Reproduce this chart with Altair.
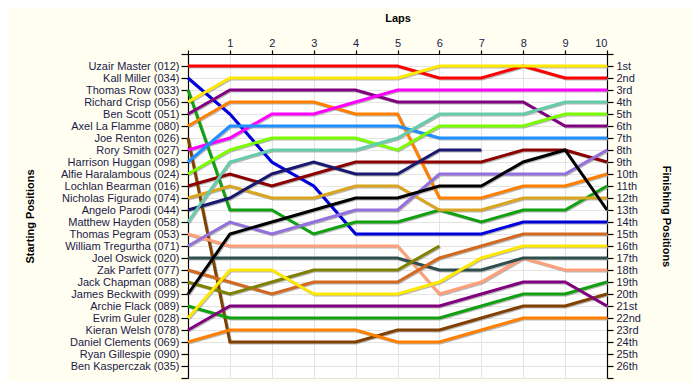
import json
import altair as alt
import pandas as pd

laps = list(range(11))

names = ["Uzair Master", "Kall Miller", "Thomas Row", "Richard Crisp", "Ben Scott",
         "Axel La Flamme", "Joe Renton", "Rory Smith", "Harrison Huggan", "Alfie Haralambous",
         "Lochlan Bearman", "Nicholas Figurado", "Angelo Parodi", "Matthew Hayden",
         "Thomas Pegram", "William Tregurtha", "Joel Oswick", "Zak Parfett", "Jack Chapman",
         "James Beckwith", "Archie Flack", "Evrim Guler", "Kieran Welsh", "Daniel Clements",
         "Ryan Gillespie", "Ben Kasperczak"]
numbers = ["012", "034", "033", "056", "051", "080", "026", "027", "098", "024", "016",
           "074", "044", "058", "053", "071", "020", "077", "088", "099", "089", "028",
           "078", "069", "090", "035"]
finish_labels = ["1st", "2nd", "3rd", "4th", "5th", "6th", "7th", "8th", "9th", "10th",
                 "11th", "12th", "13th", "14th", "15th", "16th", "17th", "18th", "19th",
                 "20th", "21st", "22nd", "23rd", "24th", "25th", "26th"]

# positions per lap (lap 0 = grid)
uzair = [1, 1, 1, 1, 1, 1, 2, 2, 1, 2, 2]
kall = [2, 5, 9, 11, 15, 15, 15, 15, 14, 14, 14]
thomas_row = [3, 13, 13, 15, 14, 14, 13, 14, 13, 13, 11]
richard = [4, 2, 2, 2, 2, 2, 1, 1, 1, 1, 1]
ben_scott = [5, 3, 3, 3, 3, 4, 4, 4, 4, 6, 6]
axel = [6, 4, 4, 4, 5, 5, 12, 12, 11, 11, 10]
joe = [7, 24, 24, 24, 24, 23, 23, 22, 21, 21, 20]
rory = [8, 7, 5, 5, 4, 3, 3, 3, 3, 3, 3]
harrison = [9, 6, 6, 6, 6, 6, 7, 7, 7, 7, 7]
alfie = [10, 8, 7, 7, 7, 8, 6, 6, 6, 5, 5]
lochlan = [11, 10, 11, 10, 9, 9, 9, 9, 8, 8, 9]
nicholas = [12, 11, 12, 12, 11, 11, 13, 13, 12, 12, 12]
angelo = [13, 12, 10, 9, 10, 10, 8, 8]
matthew = [14, 9, 8, 8, 8, 7, 5, 5, 5, 4, 4]
pegram = [15, 16, 16, 16, 16, 16, 20, 19, 17, 18, 18]
william = [16, 14, 15, 14, 13, 13, 10, 10, 10, 10, 8]
joel = [17, 17, 17, 17, 17, 17, 18, 18, 17, 17, 17]
zak = [18, 19, 20, 19, 19, 19, 17, 16, 15, 15, 15]
jack = [19, 20, 19, 18, 18, 18, 16]
james = [20, 15, 14, 13, 12, 12, 11, 11, 9, 8, 13]
archie = [21, 22, 22, 22, 22, 22, 22, 21, 20, 20, 19]
evrim = [22, 18, 18, 20, 20, 20, 19, 17, 16, 16, 16]
kieran = [23, 21, 21, 21, 21, 21, 21, 20, 19, 19, 21]
daniel = [24, 23, 23, 23, 23, 24, 24, 23, 22, 22, 22]
ryan = []
ben_k = []

series = [uzair, kall, thomas_row, richard, ben_scott, axel, joe, rory, harrison, alfie,
          lochlan, nicholas, angelo, matthew, pegram, william, joel, zak, jack, james,
          archie, evrim, kieran, daniel, ryan, ben_k]

colors = ["#FF0000", "#0000DD", "#10A010", "#FFE800", "#800080", "#FF8000", "#804000",
          "#FF00FF", "#1E90FF", "#7CFC00", "#8B0000", "#DAA520", "#191970", "#66CDAA",
          "#FFA07A", "#9370DB", "#2F4F4F", "#D2691E", "#808000", "#000000", "#10A010",
          "#FFE800", "#800080", "#FF8000", "#999999", "#999999"]

start_labels = [f"{n} ({k})" for n, k in zip(names, numbers)]

rows = []
for i, (name, s) in enumerate(zip(names, series)):
    for lap, p in zip(laps, s):
        rows.append({"driver": name, "lap": lap, "pos": p, "order": i})
df = pd.DataFrame(rows)

label_font = "Liberation Sans"
label_color = "#1a1a48"
ticks = list(range(28))

x_enc = alt.X("lap:Q",
              scale=alt.Scale(domain=[0, 10], nice=False, zero=True),
              axis=alt.Axis(orient="top", values=laps, title="Laps",
                            labelExpr="datum.value == 0 ? '' : datum.label",
                            tickSize=4, labelPadding=2, grid=True,
                            titleY=-36, titleBaseline="middle"))
y_scale = alt.Scale(domain=[0, 27], reverse=True, nice=False, zero=False)

left_expr = json.dumps(start_labels) + "[datum.value - 1] || ''"
right_expr = json.dumps(finish_labels) + "[datum.value - 1] || ''"

shadow = alt.Chart(df).mark_line(strokeWidth=3, color="#9a9a9a", opacity=0.7,
                                  xOffset=1, yOffset=1).encode(
    x=x_enc,
    y=alt.Y("pos:Q", scale=y_scale,
            axis=alt.Axis(orient="right", values=ticks, labelExpr=right_expr,
                          title="Finishing Positions", grid=False, tickSize=6,
                          labelPadding=3, titleAngle=90, titleX=58, titleY=162,
                          titleAlign="center", titleBaseline="middle")),
    detail="driver:N",
)

lines = alt.Chart(df).mark_line(strokeWidth=3).encode(
    x=x_enc,
    y=alt.Y("pos:Q", scale=y_scale,
            axis=alt.Axis(orient="left", values=ticks, labelExpr=left_expr,
                          title="Starting Positions", grid=True, tickSize=7,
                          labelPadding=2, titleAngle=270, titleX=-158, titleY=162,
                          titleAlign="center", titleBaseline="middle")),
    color=alt.Color("driver:N", scale=alt.Scale(domain=names, range=colors), legend=None),
    detail="driver:N",
    order=alt.Order("order:Q"),
)

chart = alt.layer(shadow, lines).resolve_axis(y="independent").properties(
    width=419, height=324,
    autosize=alt.AutoSizeParams(type="none"),
    padding={"left": 180, "top": 46, "right": 85, "bottom": 4},
    background="#FFFEF0",
).configure_view(fill="white", stroke=None).configure_axis(
    labelFont=label_font, labelFontSize=11, labelColor=label_color,
    titleFont=label_font, titleFontSize=11, titleFontWeight="bold", titleColor="black",
    domainColor="black", domainWidth=1.2, tickColor="black", tickWidth=1.2,
    gridColor="#e4e4e4", gridWidth=1,
)

chart.save("out.html", embed_options={"renderer": "svg", "actions": False})
